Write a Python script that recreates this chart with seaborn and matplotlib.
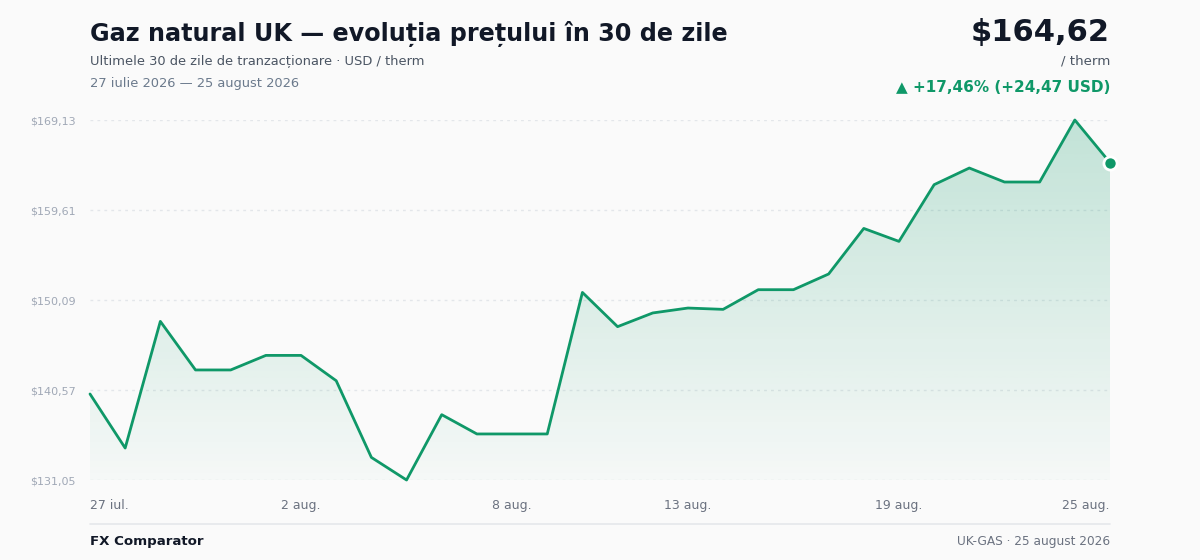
import numpy as np
import pandas as pd
import matplotlib
matplotlib.use("Agg")
import matplotlib.pyplot as plt
import matplotlib.dates as mdates
from matplotlib.colors import LinearSegmentedColormap
import seaborn as sns

# ---- data ----
dates = pd.date_range("2026-07-27", "2026-08-25", freq="D")
prices = [140.15, 134.43, 147.83, 142.69, 142.69, 144.23, 144.23, 141.55, 133.44, 131.05,
          137.96, 135.92, 135.92, 135.92, 150.89, 147.27, 148.72, 149.24, 149.10, 151.18,
          151.18, 152.84, 157.66, 156.29, 162.29, 164.05, 162.57, 162.57, 169.13, 164.62]
y_ticks = [131.05, 140.57, 150.09, 159.61, 169.13]
y_tick_labels = ["$131,05", "$140,57", "$150,09", "$159,61", "$169,13"]
x_tick_dates = ["2026-07-27", "2026-08-02", "2026-08-08", "2026-08-13", "2026-08-19", "2026-08-25"]
x_tick_labels = ["27 iul.", "2 aug.", "8 aug.", "13 aug.", "19 aug.", "25 aug."]

title = "Gaz natural UK — evoluția prețului în 30 de zile"
subtitle = "Ultimele 30 de zile de tranzacționare · USD / therm"
date_range_text = "27 iulie 2026 — 25 august 2026"
price_text = "$164,62"
unit_text = "/ therm"
change_text = "▲ +17,46% (+24,47 USD)"
brand_text = "FX Comparator"
source_text = "UK-GAS · 25 august 2026"

df = pd.DataFrame({"date": dates, "price": prices})

GREEN = "#0f9868"
BG = "#fafafa"

sns.set_theme(style="white")
plt.rcParams["font.family"] = ["DejaVu Sans"]

fig = plt.figure(figsize=(12, 5.6), dpi=100, facecolor=BG)
ax = fig.add_axes([90 / 1200, 1 - 480 / 560, 1020 / 1200, 360 / 560])
ax.set_facecolor(BG)

x0, x1 = mdates.date2num(dates[0]), mdates.date2num(dates[-1])
ymin, ymax = y_ticks[0], y_ticks[-1]
ax.set_xlim(dates[0], dates[-1])
ax.set_ylim(ymin, ymax)

# gradient fill under the line
cmap = LinearSegmentedColormap.from_list(
    "g", [(0.06, 0.6, 0.41, 0.02), (0.06, 0.6, 0.41, 0.24)])
grad = np.linspace(0, 1, 256).reshape(-1, 1)
im = ax.imshow(grad, aspect="auto", cmap=cmap, origin="lower",
               extent=[x0, x1, ymin, ymax], zorder=1)
poly = ax.fill_between(df["date"], df["price"], ymin, color="none", lw=0, zorder=1)
im.set_clip_path(poly.get_paths()[0], transform=ax.transData)

# grid lines
for yt in y_ticks:
    ax.axhline(yt, color="#e3e6ea", lw=1, ls=(0, (2, 3)), zorder=0.5)

sns.lineplot(data=df, x="date", y="price", ax=ax, color=GREEN, lw=2, zorder=3,
             clip_on=False)
ax.scatter([df["date"].iloc[-1]], [df["price"].iloc[-1]], s=90, color=GREEN,
           edgecolor="white", linewidth=2, zorder=4, clip_on=False)

for s in ax.spines.values():
    s.set_visible(False)
ax.set_xlabel("")
ax.set_ylabel("")
ax.set_yticks(y_ticks)
ax.set_yticklabels(y_tick_labels, fontsize=8, color="#a0a8b6")
ax.tick_params(axis="y", length=0, pad=10)
ax.set_xticks(pd.to_datetime(x_tick_dates))
ax.set_xticklabels(x_tick_labels, fontsize=9, color="#6b7280")
ax.tick_params(axis="x", length=0, pad=14)
xt = ax.get_xticklabels()
xt[0].set_ha("left")
xt[-1].set_ha("right")

# header texts
def px(x, y):
    return x / 1200, 1 - y / 560

fig.text(*px(90, 34), title, fontsize=17.2, fontweight="bold", color="#111827", va="center", ha="left")
fig.text(*px(90, 61), subtitle, fontsize=9.4, color="#4b5563", va="center", ha="left")
fig.text(*px(90, 83), date_range_text, fontsize=9.4, color="#6b7a8c", va="center", ha="left")
fig.text(*px(1110, 32), price_text, fontsize=22, fontweight="bold", color="#111827", va="center", ha="right")
fig.text(*px(1110, 61), unit_text, fontsize=9.6, color="#4b5563", va="center", ha="right")
fig.text(*px(1110, 87), change_text, fontsize=11, fontweight="bold", color=GREEN, va="center", ha="right")

# footer
fig.add_artist(plt.Line2D([90 / 1200, 1110 / 1200], [1 - 524 / 560] * 2, color="#e5e7eb", lw=1.2))
fig.text(*px(90, 541), brand_text, fontsize=9.6, fontweight="bold", color="#111827", va="center", ha="left")
fig.text(*px(1110, 541), source_text, fontsize=8.7, color="#6b7280", va="center", ha="right")

fig.savefig("out.png", dpi=100, facecolor=BG)
